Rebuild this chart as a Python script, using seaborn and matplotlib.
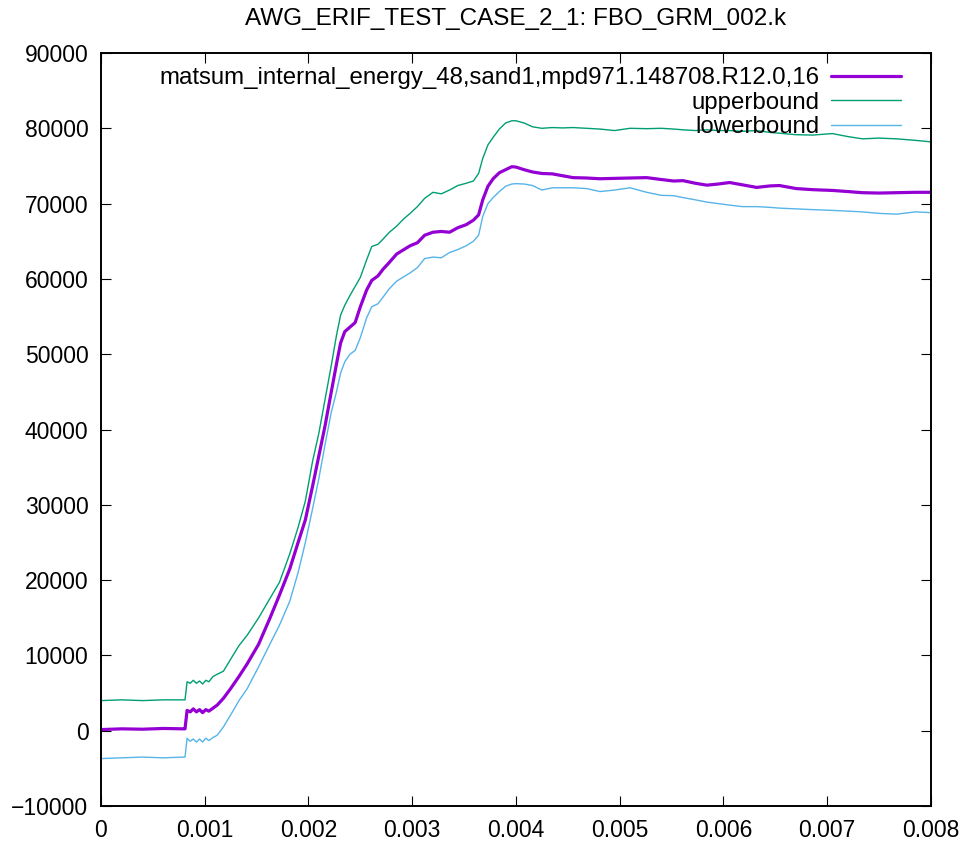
import pandas as pd
import matplotlib
matplotlib.use("Agg")
import matplotlib.pyplot as plt
import seaborn as sns

sns.set_style("ticks")
plt.rcParams['font.family'] = ['Liberation Sans', 'DejaVu Sans']
plt.rcParams['text.color'] = 'black'

title = "AWG_ERIF_TEST_CASE_2_1: FBO_GRM_002.k"
labels = ["matsum_internal_energy_48,sand1,mpd971.148708.R12.0,16", "upperbound", "lowerbound"]

time = [0, 0.0002, 0.0004, 0.0006, 0.0008, 0.00081, 0.00083, 0.00086, 0.00089, 0.00092,
        0.00095, 0.00098, 0.00101, 0.00104, 0.00108, 0.00112, 0.00118, 0.00125, 0.00133, 0.00141,
        0.00152, 0.00163, 0.00172, 0.00182, 0.00190, 0.00197, 0.00204, 0.00210, 0.00216, 0.00222,
        0.00227, 0.00231, 0.00235, 0.00240, 0.00245, 0.00250, 0.00256, 0.00261, 0.00267, 0.00272,
        0.00278, 0.00285, 0.00292, 0.00298, 0.00305, 0.00312, 0.00320, 0.00328, 0.00336, 0.00344,
        0.00352, 0.00359, 0.00364, 0.00368, 0.00373, 0.00378, 0.00384, 0.00390, 0.00396, 0.00400,
        0.00408, 0.00416, 0.00425, 0.00435, 0.00445, 0.00455, 0.00468, 0.00481, 0.00495, 0.00510,
        0.00526, 0.00540, 0.00552, 0.00561, 0.00573, 0.00584, 0.00595, 0.00606, 0.00618, 0.00632,
        0.00645, 0.00654, 0.00670, 0.00686, 0.00705, 0.00720, 0.00734, 0.00750, 0.00767, 0.00785, 0.00800]

energy = [150, 250, 200, 300, 250, 250, 2700, 2500, 2900, 2500,
          2800, 2400, 2800, 2600, 3000, 3400, 4300, 5600, 7200, 8900,
          11500, 15000, 18000, 21500, 25000, 28000, 32500, 36500, 40500, 45000,
          48700, 51500, 53000, 53600, 54200, 56300, 58500, 59800, 60400, 61300,
          62200, 63300, 63900, 64400, 64800, 65800, 66200, 66300, 66200, 66800,
          67200, 67800, 68500, 70500, 72300, 73300, 74100, 74500, 74900, 74850,
          74500, 74200, 74000, 73950, 73700, 73450, 73400, 73300, 73350, 73400,
          73450, 73200, 73000, 73050, 72700, 72450, 72600, 72800, 72500, 72150,
          72350, 72400, 72000, 71850, 71750, 71600, 71450, 71400, 71450, 71500, 71500]

upper = [4000, 4100, 4000, 4100, 4100, 4100, 6500, 6300, 6700, 6300,
         6600, 6200, 6700, 6500, 7200, 7500, 7900, 9500, 11300, 12700,
         15000, 17600, 19700, 23500, 27000, 30500, 35800, 39500, 44000, 48500,
         52500, 55200, 56500, 57800, 59000, 60200, 62500, 64300, 64600, 65300,
         66200, 67000, 68000, 68700, 69600, 70700, 71500, 71300, 71800, 72400,
         72700, 73000, 74000, 76000, 77800, 78800, 79900, 80700, 81000, 81000,
         80700, 80200, 80000, 80100, 80050, 80100, 80000, 79900, 79700, 80000,
         79950, 80000, 79900, 79800, 79700, 79800, 79700, 79700, 79600, 79700,
         79450, 79350, 79150, 79100, 79300, 78900, 78600, 78700, 78600, 78400, 78200]

lower = [-3700, -3600, -3500, -3600, -3500, -3500, -1000, -1400, -1100, -1500,
         -1100, -1500, -1000, -1300, -900, -600, 500, 2100, 4000, 5600,
         8500, 11550, 14000, 17200, 21000, 25000, 29500, 33500, 38000, 42300,
         45000, 47500, 49000, 50000, 50500, 52200, 54800, 56300, 56700, 57600,
         58700, 59700, 60300, 60800, 61500, 62700, 62900, 62800, 63500, 63900,
         64400, 65000, 65800, 68300, 70000, 70800, 71600, 72300, 72600, 72650,
         72600, 72400, 71800, 72100, 72100, 72100, 72000, 71600, 71800, 72100,
         71500, 71100, 71050, 70800, 70500, 70200, 70000, 69800, 69600, 69600,
         69500, 69400, 69300, 69200, 69100, 69000, 68900, 68700, 68600, 68900, 68800]

xticks = [0, 0.001, 0.002, 0.003, 0.004, 0.005, 0.006, 0.007, 0.008]
xtick_labels = ["0", "0.001", "0.002", "0.003", "0.004", "0.005", "0.006", "0.007", "0.008"]
yticks = list(range(-10000, 90001, 10000))

fig = plt.figure(figsize=(9.71, 8.48), dpi=100)
ax = fig.add_axes([0.104, 0.0495, 0.8547, 0.888])

sns.lineplot(x=time, y=energy, ax=ax, color="#9400d3", linewidth=2.3, label=labels[0])
sns.lineplot(x=time, y=upper, ax=ax, color="#009e73", linewidth=1.0, label=labels[1])
sns.lineplot(x=time, y=lower, ax=ax, color="#56b4e9", linewidth=1.0, label=labels[2])

ax.set_xlim(0, 0.008)
ax.set_ylim(-10000, 90000)
ax.set_xticks(xticks)
ax.set_xticklabels(xtick_labels)
ax.set_yticks(yticks)
ax.set_xlabel("")
ax.set_ylabel("")
ax.tick_params(direction="in", length=7, width=0.8, top=True, right=True,
               labelsize=16.5, pad=9, colors="black")
for s in ax.spines.values():
    s.set_visible(True)
    s.set_linewidth(1.4)
    s.set_color("black")

ax.set_title(title, fontsize=17.5, pad=20, color="black")

ax.legend(loc="upper right", bbox_to_anchor=(0.981, 1.0), frameon=False, markerfirst=False,
          fontsize=17.3, handlelength=2.9, handletextpad=0.5, labelspacing=0.1,
          borderaxespad=0.2)

fig.savefig("out.png", dpi=100)
